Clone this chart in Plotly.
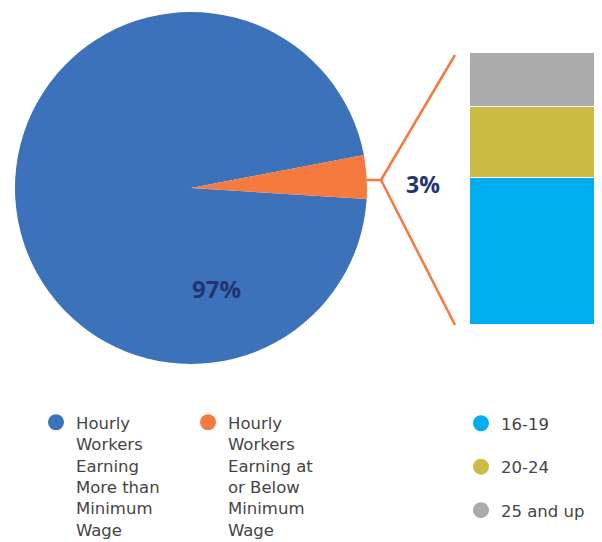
import plotly.graph_objects as go

# ---- data ----
pie_labels = ["Hourly Workers Earning More than Minimum Wage",
              "Hourly Workers Earning at or Below Minimum Wage"]
pie_legend_text = ["Hourly<br>Workers<br>Earning<br>More than<br>Minimum<br>Wage",
                   "Hourly<br>Workers<br>Earning at<br>or Below<br>Minimum<br>Wage"]
pie_values = [96, 4]
pie_text = ["97%", "3%"]
pie_colors = ["#3B72BA", "#F47A3F"]

age_groups = ["16-19", "20-24", "25 and up"]
age_values = [54, 26, 20]
age_colors = ["#00AEEF", "#CCBC44", "#ABABAB"]

W, H = 602, 542
label_color = "#233475"
text_color = "#444444"
font_family = "DejaVu Sans"
legend_size = 16.5

fig = go.Figure()

fig.add_trace(go.Pie(
    labels=pie_labels, values=pie_values, sort=False, direction="clockwise",
    rotation=93.6, marker=dict(colors=pie_colors, line=dict(width=0)),
    textinfo="none", showlegend=False, hoverinfo="label+percent",
    domain=dict(x=[15 / W, 367 / W], y=[1 - 364 / H, 1 - 12 / H]),
))

for g, v, c in zip(age_groups, age_values, age_colors):
    fig.add_trace(go.Bar(x=[0], y=[v], name=g, marker=dict(color=c, line=dict(color="white", width=1)),
                         showlegend=False, width=1))

# legend entries (circles)
for t, c in zip(pie_legend_text, pie_colors):
    fig.add_trace(go.Scatter(x=[None], y=[None], mode="markers", name=t,
                             marker=dict(color=c, size=16), legend="legend"))
for g, c in zip(age_groups, age_colors):
    fig.add_trace(go.Scatter(x=[None], y=[None], mode="markers", name=g,
                             marker=dict(color=c, size=16), legend="legend2",
                             legendgroup=g))

# percentage labels
fig.add_annotation(x=216 / W, y=1 - 288 / H, xref="paper", yref="paper", text=f"<b>{pie_text[0]}</b>",
                   xanchor="center", yanchor="middle", showarrow=False,
                   font=dict(size=24, color=label_color, family="Open Sans"))
fig.add_annotation(x=423 / W, y=1 - 184 / H, xref="paper", yref="paper", text=f"<b>{pie_text[1]}</b>",
                   xanchor="center", yanchor="middle", showarrow=False,
                   font=dict(size=23, color=label_color, family="Open Sans"))

# bracket lines
lc = pie_colors[1]
for (x0, y0, x1, y1) in [(366, 180, 381, 180), (381, 180, 455, 55), (381, 180, 455, 325)]:
    fig.add_shape(type="line", xref="paper", yref="paper",
                  x0=x0 / W, y0=1 - y0 / H, x1=x1 / W, y1=1 - y1 / H,
                  line=dict(color=lc, width=2.5))

fig.update_layout(
    width=W, height=H, margin=dict(l=0, r=0, t=0, b=0, autoexpand=False),
    paper_bgcolor="white", plot_bgcolor="white",
    barmode="stack", bargap=0,
    xaxis=dict(domain=[470 / W, 595 / W], visible=False, range=[-0.5, 0.5], fixedrange=True),
    yaxis=dict(domain=[1 - 325 / H, 1 - 53 / H], visible=False, range=[0, 100], fixedrange=True),
    font=dict(family=font_family, color=text_color, size=legend_size),
    legend=dict(orientation="h", x=36 / W, y=1 - 405 / H, xanchor="left", yanchor="top",
                entrywidth=107, entrywidthmode="pixels", valign="top", traceorder="normal",
                font=dict(size=legend_size, color=text_color, family=font_family),
                bgcolor="rgba(0,0,0,0)"),
    legend2=dict(orientation="v", x=461 / W, y=1 - 406 / H, xanchor="left", yanchor="top",
                 tracegroupgap=19, traceorder="grouped", valign="middle",
                 font=dict(size=legend_size, color=text_color, family=font_family),
                 bgcolor="rgba(0,0,0,0)"),
    showlegend=True,
)

fig.write_html("out.html")
